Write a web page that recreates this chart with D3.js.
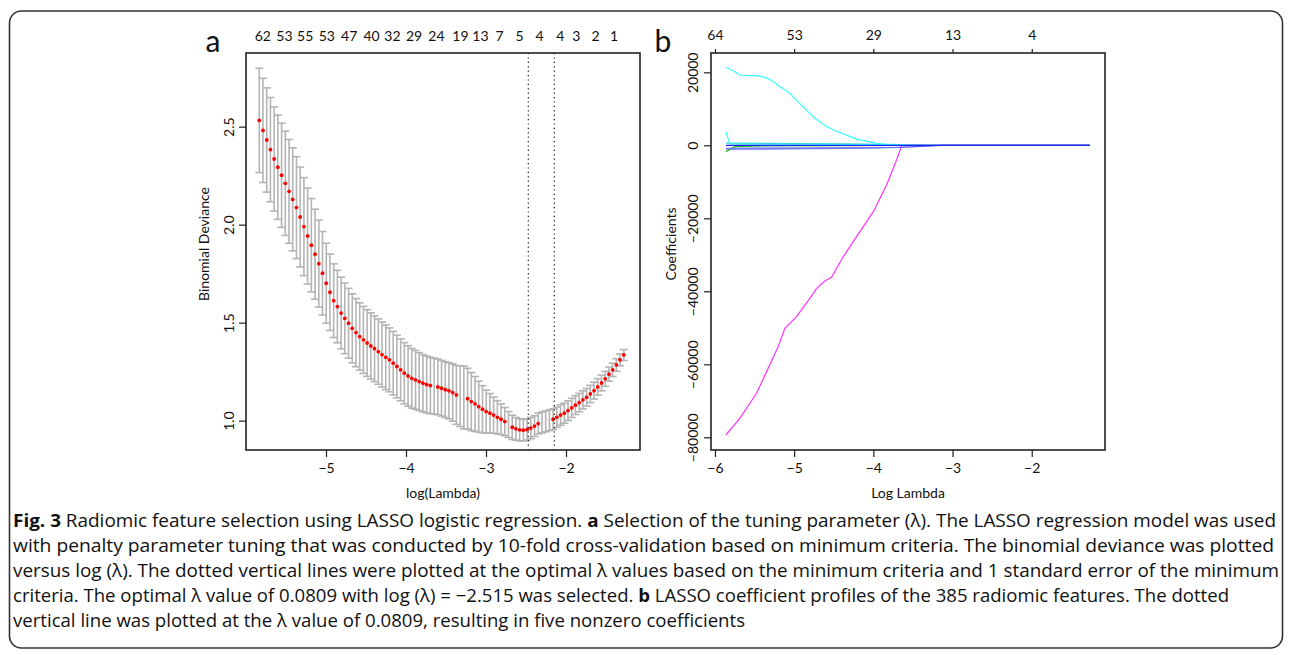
<!DOCTYPE html>
<html><head><meta charset="utf-8">
<script src="https://cdn.jsdelivr.net/npm/d3@7"></script>
<style>
body{margin:0;background:#fff}
svg{display:block}
text{font-family:Lato,"Open Sans",sans-serif;fill:#111}
</style></head>
<body><svg id="c" width="1292" height="655"></svg>
<script>
// ---------------- Panel a data (cv.glmnet) ----------------
const logLambda = [-5.834,-5.788,-5.741,-5.695,-5.648,-5.602,-5.555,-5.509,-5.462,-5.416,
-5.369,-5.323,-5.276,-5.230,-5.183,-5.137,-5.090,-5.044,-4.997,-4.951,
-4.904,-4.858,-4.811,-4.765,-4.718,-4.672,-4.625,-4.579,-4.532,-4.486,
-4.439,-4.393,-4.346,-4.300,-4.253,-4.207,-4.160,-4.114,-4.067,-4.021,
-3.974,-3.928,-3.881,-3.835,-3.788,-3.742,-3.695,-3.649,-3.602,-3.556,
-3.509,-3.463,-3.416,-3.370,-3.323,-3.277,-3.230,-3.184,-3.137,-3.091,
-3.044,-2.998,-2.951,-2.905,-2.858,-2.812,-2.765,-2.719,-2.672,-2.626,
-2.579,-2.533,-2.486,-2.440,-2.393,-2.347,-2.300,-2.254,-2.207,-2.161,
-2.114,-2.068,-2.021,-1.975,-1.928,-1.882,-1.835,-1.789,-1.742,-1.696,
-1.649,-1.603,-1.556,-1.510,-1.463,-1.417,-1.370,-1.324,-1.277];
const cvm = [2.532,2.481,2.432,2.383,2.335,2.293,2.252,2.211,2.170,2.129,
2.087,2.039,1.990,1.942,1.895,1.849,1.801,1.752,1.701,1.655,
1.612,1.582,1.549,1.522,1.497,1.471,1.449,1.429,1.412,1.396,
1.381,1.367,1.352,1.337,1.323,1.310,1.293,1.276,1.259,1.242,
1.228,1.216,1.208,1.199,1.191,1.184,1.179,1.176,1.172,1.165,
1.158,1.152,1.143,1.131,1.125,1.118,1.112,1.097,1.085,1.071,
1.058,1.046,1.038,1.028,1.017,1.007,0.995,0.980,0.966,0.958,
0.953,0.951,0.955,0.962,0.972,0.985,0.991,0.996,1.002,1.007,
1.017,1.028,1.038,1.051,1.065,1.079,1.092,1.106,1.119,1.136,
1.153,1.172,1.192,1.213,1.237,1.259,1.284,1.310,1.335];
const cvsd = [0.266,0.266,0.266,0.266,0.266,0.266,0.266,0.266,0.265,0.263,
0.260,0.255,0.250,0.245,0.238,0.230,0.222,0.213,0.204,0.195,
0.188,0.185,0.183,0.180,0.178,0.176,0.174,0.172,0.171,0.170,
0.169,0.168,0.167,0.166,0.165,0.163,0.162,0.160,0.158,0.156,
0.154,0.152,0.150,0.148,0.146,0.145,0.144,0.143,0.142,0.142,
0.142,0.143,0.146,0.150,0.155,0.160,0.155,0.148,0.140,0.130,
0.120,0.110,0.100,0.092,0.085,0.078,0.072,0.066,0.062,0.058,
0.056,0.055,0.054,0.054,0.053,0.053,0.053,0.053,0.053,0.053,
0.052,0.052,0.051,0.050,0.049,0.048,0.047,0.046,0.045,0.044,
0.043,0.042,0.040,0.038,0.036,0.034,0.032,0.030,0.028];
const hiddenDots = [47,54,55,67,76,77,78];
const vLines = [-2.471,-2.146];
const topA_pos = [-5.79,-5.52,-5.26,-4.99,-4.71,-4.43,-4.17,-3.90,-3.62,-3.32,-3.07,-2.83,-2.58,-2.33,-2.07,-1.87,-1.63,-1.40];
const topA_lab = ["62","53","55","53","47","40","32","29","24","19","13","7","5","4","4","3","2","1"];
const xTicksA = [-5,-4,-3,-2];
const yTicksA = [1.0,1.5,2.0,2.5];

// ---------------- Panel b data (glmnet coefficient paths) ----------------
const topB_pos = [-6,-5,-4,-3,-2];
const topB_lab = ["64","53","29","13","4"];
const xTicksB = [-6,-5,-4,-3,-2];
const yTicksB = [20000,0,-20000,-40000,-60000,-80000];

const cyanBigX = [-5.862,-5.76,-5.686,-5.58,-5.475,-5.36,-5.26,-5.17,-5.07,-4.93,-4.74,-4.60,-4.47,-4.21,-3.96,-3.80,-3.70,-1.265];
const cyanBigY = [21370,20300,19260,19100,19070,18600,17420,16000,14520,11500,7400,5300,3900,1700,550,100,0,0];
const magentaX = [-5.862,-5.686,-5.475,-5.202,-5.117,-4.970,-4.802,-4.717,-4.612,-4.528,-4.381,-4.17,-4.00,-3.833,-3.707,-3.644,-3.62,-1.265];
const magentaY = [-79370,-74800,-67940,-55180,-50140,-46960,-41920,-39180,-37180,-36160,-30520,-23670,-18190,-10880,-4030,-190,0,0];
const cyanSmallX = [-5.862,-5.81,-5.5,-4.5,-3.6,-3.2,-1.265];
const cyanSmallY = [3730,360,300,250,100,0,0];
const greenX = [-5.862,-5.75,-5.4,-4.6,-3.6,-3.3,-1.265];
const greenY = [-1750,-380,-150,-100,-50,0,0];
const tealX = [-5.862,-4.5,-3.6,-3.2,-1.265];
const tealY = [600,400,200,0,0];
const lavenderX = [-5.862,-5.0,-4.0,-3.5,-3.2,-1.265];
const lavenderY = [-1200,-1000,-800,-400,0,0];
const blue1X = [-5.862,-5.0,-4.2,-3.7,-3.4,-3.15,-1.265];
const blue1Y = [-800,-750,-700,-600,-300,0,0];
const blueMainX = [-5.862,-1.265];
const blueMainY = [0,0];

const coefSeries = [
  {x: tealX, y: tealY, c: "#33cccc"},
  {x: lavenderX, y: lavenderY, c: "#9a9aff"},
  {x: greenX, y: greenY, c: "#22bb22"},
  {x: cyanSmallX, y: cyanSmallY, c: "#33ffff"},
  {x: cyanBigX, y: cyanBigY, c: "#33ffff"},
  {x: magentaX, y: magentaY, c: "#ff33ff"},
  {x: blue1X, y: blue1Y, c: "#5555ff"},
  {x: blueMainX, y: blueMainY, c: "#2222ee"}
];

// ---------------- Caption ----------------
const captionLines = [
  [["Fig. 3",1],[" Radiomic feature selection using LASSO logistic regression. ",0],["a",1],[" Selection of the tuning parameter (λ). The LASSO regression model was used",0]],
  [["with penalty parameter tuning that was conducted by 10-fold cross-validation based on minimum criteria. The binomial deviance was plotted",0]],
  [["versus log (λ). The dotted vertical lines were plotted at the optimal λ values based on the minimum criteria and 1 standard error of the minimum",0]],
  [["criteria. The optimal λ value of 0.0809 with log (λ) = −2.515 was selected. ",0],["b",1],[" LASSO coefficient profiles of the 385 radiomic features. The dotted",0]],
  [["vertical line was plotted at the λ value of 0.0809, resulting in five nonzero coefficients",0]]
];
const captionWidths = [1263,1261,1266,1216,732];

// =====================================================
const svg = d3.select("#c");

svg.append("rect").attr("x",9.5).attr("y",11).attr("width",1273).attr("height",637)
  .attr("rx",12).attr("fill","none").attr("stroke","#333").attr("stroke-width",1.6);

// ---------- Panel a ----------
const A = {l:246, r:640, t:53, b:450};
const xA = d3.scaleLinear().domain([-6.0,-1.075]).range([A.l,A.r]);
const yA = d3.scaleLinear().domain([0.85,2.876]).range([A.b,A.t]);
const gA = svg.append("g");

const capW = 4;
const eb = gA.append("g").attr("stroke","#b4b4b4").attr("stroke-width",1.6);
logLambda.forEach((lx,i)=>{
  const x = xA(lx), up = yA(cvm[i]+cvsd[i]), lo = yA(cvm[i]-cvsd[i]);
  eb.append("line").attr("x1",x).attr("x2",x).attr("y1",up).attr("y2",lo);
  eb.append("line").attr("x1",x-capW).attr("x2",x+capW).attr("y1",up).attr("y2",up);
  eb.append("line").attr("x1",x-capW).attr("x2",x+capW).attr("y1",lo).attr("y2",lo);
});
gA.append("g").selectAll("circle").data(logLambda.map((lx,i)=>({lx,v:cvm[i],i})).filter(d=>!hiddenDots.includes(d.i)))
  .join("circle").attr("cx",d=>xA(d.lx)).attr("cy",d=>yA(d.v)).attr("r",1.9).attr("fill","#ff0000");
gA.selectAll("line.v").data(vLines).join("line").attr("class","v")
  .attr("x1",d=>xA(d)).attr("x2",d=>xA(d)).attr("y1",A.t).attr("y2",A.b)
  .attr("stroke","#111").attr("stroke-width",1.2).attr("stroke-dasharray","1.2,3.2");

function styleAxis(g){ g.select(".domain").remove(); g.selectAll(".tick line").attr("stroke","#222").attr("stroke-width",1.2); g.selectAll("text").style("font-size","14px").attr("fill","#111"); }
const axBA = gA.append("g").attr("transform",`translate(0,${A.b})`)
  .call(d3.axisBottom(xA).tickValues(xTicksA).tickSize(7).tickPadding(6).tickFormat(d3.format("d")));
styleAxis(axBA);
const axLA = gA.append("g").attr("transform",`translate(${A.l},0)`)
  .call(d3.axisLeft(yA).tickValues(yTicksA).tickSize(7).tickFormat(d3.format(".1f")));
styleAxis(axLA);
axLA.selectAll(".tick text").attr("x",0).attr("dy",0).attr("text-anchor","middle")
  .attr("transform","translate(-16,0) rotate(-90)").attr("dominant-baseline","middle");
gA.selectAll("text.top").data(topA_pos).join("text").attr("class","top")
  .attr("x",d=>xA(d)).attr("y",41).attr("text-anchor","middle").style("font-size","14px")
  .text((d,i)=>topA_lab[i]);
gA.append("rect").attr("x",A.l).attr("y",A.t).attr("width",A.r-A.l).attr("height",A.b-A.t)
  .attr("fill","none").attr("stroke","#222").attr("stroke-width",1.6);
gA.append("text").attr("x",443).attr("y",498).attr("text-anchor","middle").style("font-size","14px").text("log(Lambda)");
gA.append("text").attr("transform","translate(209,244) rotate(-90)").attr("text-anchor","middle").style("font-size","14px").text("Binomial Deviance");
gA.append("text").attr("x",213).attr("y",52).attr("text-anchor","middle").style("font-size","30px").text("a");

// ---------- Panel b ----------
const B = {l:711, r:1105, t:53, b:450};
const xB = d3.scaleLinear().domain([-6.05,-1.075]).range([B.l,B.r]);
const yB = d3.scaleLinear().domain([-83480,25290]).range([B.b,B.t]);
const gB = svg.append("g");
const lineGen = d3.line().x(d=>xB(d[0])).y(d=>yB(d[1]));
coefSeries.forEach(s=>{
  gB.append("path").datum(s.x.map((v,i)=>[v,s.y[i]])).attr("d",lineGen)
    .attr("fill","none").attr("stroke",s.c).attr("stroke-width",1.2);
});
const axBB = gB.append("g").attr("transform",`translate(0,${B.b})`)
  .call(d3.axisBottom(xB).tickValues(xTicksB).tickSize(7).tickPadding(6).tickFormat(d3.format("d")));
styleAxis(axBB);
const axLB = gB.append("g").attr("transform",`translate(${B.l},0)`)
  .call(d3.axisLeft(yB).tickValues(yTicksB).tickSize(7).tickFormat(d3.format("d")));
styleAxis(axLB);
axLB.selectAll(".tick text").attr("x",0).attr("dy",0).attr("text-anchor","middle")
  .attr("transform","translate(-17,0) rotate(-90)").attr("dominant-baseline","middle");
const axTB = gB.append("g").attr("transform",`translate(0,${B.t})`)
  .call(d3.axisTop(xB).tickValues(topB_pos).tickSize(4).tickPadding(9).tickFormat((d,i)=>topB_lab[i]));
styleAxis(axTB);
gB.append("rect").attr("x",B.l).attr("y",B.t).attr("width",B.r-B.l).attr("height",B.b-B.t)
  .attr("fill","none").attr("stroke","#222").attr("stroke-width",1.6);
gB.append("text").attr("x",908).attr("y",498).attr("text-anchor","middle").style("font-size","14px").text("Log Lambda");
gB.append("text").attr("transform","translate(676,244) rotate(-90)").attr("text-anchor","middle").style("font-size","14px").text("Coefficients");
gB.append("text").attr("x",663).attr("y",52).attr("text-anchor","middle").style("font-size","30px").text("b");

// ---------- Caption ----------
const cap = svg.append("g");
captionLines.forEach((segs,li)=>{
  const t = cap.append("text").attr("x",13).attr("y",527+li*25)
    .style("font-family","'Liberation Sans Narrow','Open Sans',sans-serif").style("font-size","18px")
    .attr("fill","#2a2a2a")
    .attr("textLength",captionWidths[li]).attr("lengthAdjust","spacingAndGlyphs");
  segs.forEach(s=>{ t.append("tspan").attr("font-weight",s[1]?"700":"400").text(s[0]); });
});
</script></body></html>
